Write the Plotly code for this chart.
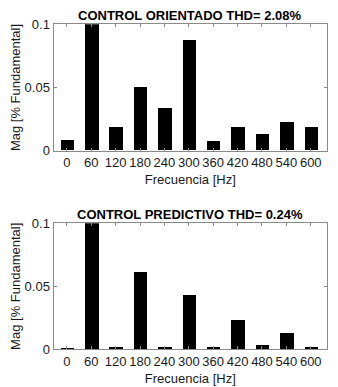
import plotly.graph_objects as go

freqs = [0, 60, 120, 180, 240, 300, 360, 420, 480, 540, 600]
mag_orientado = [0.0086, 1.0, 0.0183, 0.0504, 0.0337, 0.0872, 0.0078, 0.0188, 0.0133, 0.0227, 0.0188]
mag_predictivo = [0.0005, 1.0, 0.0013, 0.0611, 0.0013, 0.0429, 0.0010, 0.0228, 0.0029, 0.0127, 0.0016]
titles = ["CONTROL ORIENTADO THD= 2.08%", "CONTROL PREDICTIVO THD= 0.24%"]
y_ticks = [0, 0.05, 0.1]
y_ticklabels = ["0", "0.05", "0.1"]
x_title = "Frecuencia [Hz]"
y_title = "Mag [% Fundamental]"

OFF = 8  # page body margin
W, H = 338 - OFF, 387 - OFF
fig = go.Figure()

fig.add_trace(go.Bar(x=freqs, y=mag_orientado, width=33, marker=dict(color="black", line=dict(width=0)),
                     xaxis="x", yaxis="y", showlegend=False))
fig.add_trace(go.Bar(x=freqs, y=mag_predictivo, width=33, marker=dict(color="black", line=dict(width=0)),
                     xaxis="x2", yaxis="y2", showlegend=False))

def px_x(p):
    return (p - OFF) / W

def px_y(p):
    return 1 - (p - OFF) / H

xdom = [px_x(53.5), px_x(327)]
ydom_top = [px_y(150.7), px_y(24.3)]
ydom_bot = [px_y(349.3), px_y(223.3)]

font = dict(family="Liberation Sans, Arial, sans-serif", size=13, color="#1a1a1a")
axcommon = dict(showline=True, linecolor="#8a8a8a", linewidth=1, mirror="ticks", ticks="inside",
                ticklen=3, tickcolor="#8a8a8a", showgrid=False, zeroline=False, automargin=False,
                tickfont=dict(family="Liberation Sans, Arial, sans-serif", size=13, color="#1a1a1a"))

xax = dict(axcommon, domain=xdom, range=[-33, 640], tickmode="array", tickvals=freqs,
           ticktext=[str(f) for f in freqs],
           title=dict(text=x_title, font=font, standoff=5))
yax = dict(axcommon, range=[0, 0.1], tickmode="array", tickvals=y_ticks, ticktext=y_ticklabels,
           title=dict(text=y_title, font=font, standoff=6))

fig.update_layout(
    width=W, height=H,
    margin=dict(l=0, r=0, t=0, b=0),
    paper_bgcolor="white", plot_bgcolor="white",
    bargap=0,
    xaxis=dict(xax, anchor="y"),
    yaxis=dict(yax, domain=ydom_top, anchor="x"),
    xaxis2=dict(xax, anchor="y2"),
    yaxis2=dict(yax, domain=ydom_bot, anchor="x2"),
)

title_font = dict(family="Liberation Sans, Arial, sans-serif", size=13, color="black")
for t, yp in zip(titles, [15, 214]):
    fig.add_annotation(text="<b>" + t + "</b>", x=(xdom[0] + xdom[1]) / 2, y=px_y(yp),
                       xref="paper", yref="paper", showarrow=False, font=title_font,
                       xanchor="center", yanchor="middle")

fig.write_html("out.html")
